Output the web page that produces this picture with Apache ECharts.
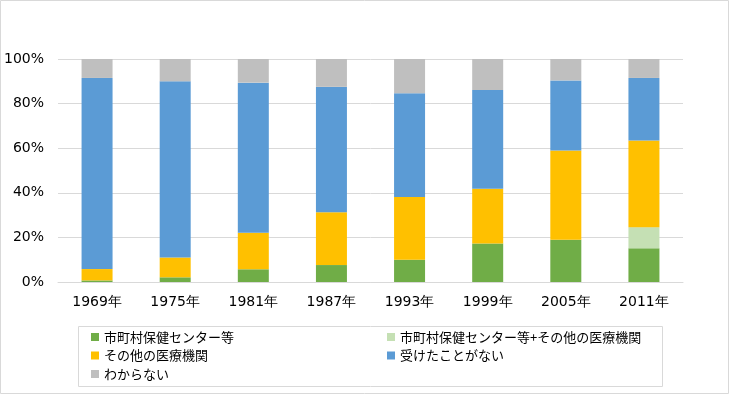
<!DOCTYPE html>
<html><head><meta charset="utf-8">
<script src="https://cdn.jsdelivr.net/npm/echarts@6/dist/echarts.min.js"></script>
<style>html,body{margin:0;padding:0;background:#fff}#c{width:730px;height:395px}</style>
</head><body><div id="c"></div>
<script>
const categories = ['1969年','1975年','1981年','1987年','1993年','1999年','2005年','2011年'];
const seriesNames = ['市町村保健センター等','市町村保健センター等+その他の医療機関','その他の医療機関','受けたことがない','わからない'];
const center = [0.7, 2.1, 5.7, 7.6, 10.0, 17.3, 19.0, 15.1];
const centerPlusOther = [0, 0, 0, 0, 0, 0, 0, 9.5];
const otherInst = [5.1, 8.9, 16.4, 23.7, 28.1, 24.5, 40.0, 38.8];
const never = [85.7, 79.0, 67.3, 56.2, 46.5, 44.3, 31.4, 28.1];
const unknown = [8.5, 10.0, 10.6, 12.5, 15.4, 13.9, 9.6, 8.5];
const yTicks = [0, 20, 40, 60, 80, 100];
const colors = ['#70AD47','#C5E0B4','#FFC000','#5B9BD5','#BFBFBF'];
const values = [center, centerPlusOther, otherInst, never, unknown];

const chart = echarts.init(document.getElementById('c'), null, {renderer:'canvas'});
const legendText = {fontFamily:'"Noto Sans CJK JP"', fontSize:13, color:'#000', lineHeight:14};
chart.setOption({
  animation:false,
  color: colors,
  grid:{left:58, right:47, top:59, bottom:113, containLabel:false},
  xAxis:{type:'category', data:categories,
    axisLine:{show:true, lineStyle:{color:'#d9d9d9', width:1}}, axisTick:{show:false},
    axisLabel:{color:'#000', fontFamily:'"DejaVu Sans", Verdana', fontSize:14, margin:13}},
  yAxis:{type:'value', min:yTicks[0], max:yTicks[yTicks.length-1], interval:20,
    axisLine:{show:false}, axisTick:{show:false},
    splitLine:{lineStyle:{color:'#d9d9d9', width:1}},
    axisLabel:{color:'#000', fontFamily:'"DejaVu Sans", Verdana', fontSize:14, margin:14, formatter:'{value}%'}},
  legend:[
    {orient:'vertical', left:86, top:325, itemWidth:8, itemHeight:8, itemGap:4.5, icon:'rect',
     textStyle:legendText, data:[seriesNames[0], seriesNames[2], seriesNames[4]], selectedMode:false},
    {orient:'vertical', left:382, top:325, itemWidth:8, itemHeight:8, itemGap:4.5, icon:'rect',
     textStyle:legendText, data:[seriesNames[1], seriesNames[3]], selectedMode:false}
  ],
  graphic:[
    {type:'rect', shape:{x:0.5, y:0.5, width:728, height:393}, style:{fill:'none', stroke:'#d9d9d9', lineWidth:1}, silent:true},
    {type:'rect', shape:{x:78.5, y:326.5, width:584, height:60}, style:{fill:'none', stroke:'#d9d9d9', lineWidth:1}, silent:true}
  ],
  series: seriesNames.map((n,i)=>({
    name:n, type:'bar', stack:'total', barWidth:31, data:values[i],
    itemStyle:{color:colors[i]}
  }))
});
</script></body></html>
